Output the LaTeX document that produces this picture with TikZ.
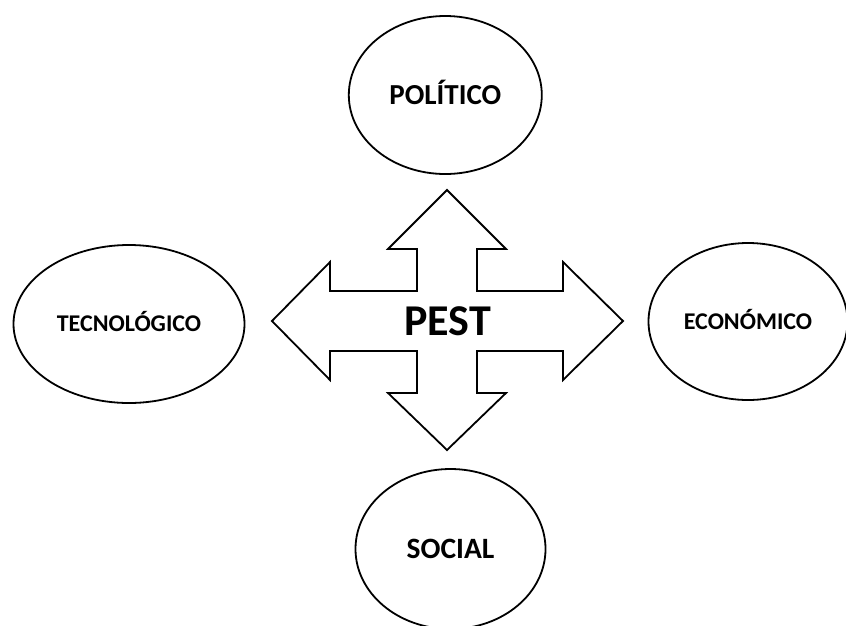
\documentclass[tikz,border=0pt]{standalone}
\usepackage{fontspec}
\setmainfont{Carlito}
\usetikzlibrary{shapes.geometric}
\begin{document}
\begin{tikzpicture}[x=1pt,y=-1pt,
  oval/.style={draw=black, line width=1.8pt, ellipse, inner sep=0pt, text depth=0pt},
  cross/.style={draw=black, line width=1.8pt, line join=miter, fill=white}]
\useasboundingbox (0,0) rectangle (846,625);
\fill[white] (0,0) rectangle (846,625);
% ellipses
\node[oval, minimum width=193pt, minimum height=158pt, text height=18.4pt, font=\bfseries\fontsize{29}{30}\selectfont] (pol) at (445.3,95) {POLÍTICO};
\node[oval, minimum width=231pt, minimum height=158pt, text height=15pt, font=\bfseries\fontsize{24}{25}\selectfont] (tec) at (129,324) {TECNOLÓGICO};
\node[oval, minimum width=199pt, minimum height=157pt, text height=15pt, font=\bfseries\fontsize{24}{25}\selectfont] (eco) at (748,321.5) {ECONÓMICO};
\node[oval, minimum width=190pt, minimum height=160pt, text height=18.6pt, font=\bfseries\fontsize{29.5}{30}\selectfont] (soc) at (450.5,549) {SOCIAL};
% cross arrow
\draw[cross] (417,291) -- (417,249) -- (388,249) -- (447,190) -- (506,249) -- (477,249) -- (477,291)
  -- (563,291) -- (563,262) -- (623,321) -- (563,380) -- (563,351) -- (477,351)
  -- (477,393) -- (506,393) -- (447,450) -- (388,393) -- (417,393) -- (417,351)
  -- (330,351) -- (330,380) -- (272,321) -- (330,262) -- (330,291) -- cycle;
\node[font=\bfseries\fontsize{44}{45}\selectfont, inner sep=0pt, text height=27.8pt, text depth=0pt] (pest) at (447.5,322) {PEST};
\end{tikzpicture}
\end{document}
